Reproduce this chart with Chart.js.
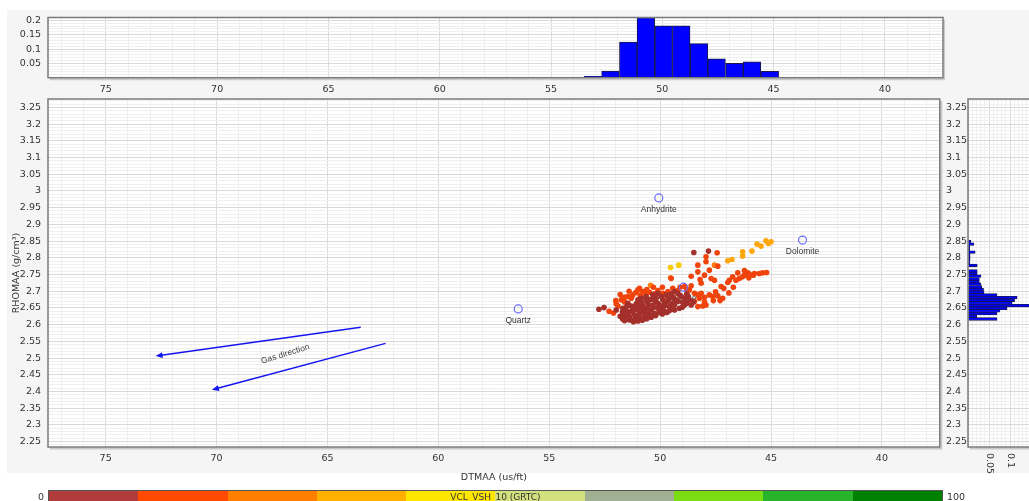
<!DOCTYPE html>
<html><head><meta charset="utf-8">
<script src="https://cdn.jsdelivr.net/npm/chart.js@4.4.1/dist/chart.umd.min.js"></script>
<style>
html,body{margin:0;padding:0;width:1029px;height:501px;overflow:hidden;background:#fff;font-family:"DejaVu Sans",sans-serif;}
#panel{position:absolute;left:7px;top:10px;width:1022px;height:463px;background:#f5f5f5;}
.wrap{position:absolute;}
#cbar{position:absolute;left:48px;top:490px;width:895px;height:14px;border:1px solid #555;display:flex;box-sizing:border-box;}
#cbar div{flex:1;}
#cbarTitle{position:absolute;left:48px;top:491px;width:895px;text-align:center;font-size:9px;color:#333;line-height:12px;}
#cbarMin{position:absolute;left:20px;width:24px;text-align:right;top:491px;font-size:9.5px;color:#333;line-height:12px;}
#cbarMax{position:absolute;left:947px;top:491px;font-size:9.5px;color:#333;line-height:12px;}
</style></head><body>
<div id="panel"></div>
<div class="wrap" style="left:0;top:0;width:945px;height:100px"><canvas id="cTop"></canvas></div>
<div class="wrap" style="left:0;top:0;width:945px;height:492px"><canvas id="cMain"></canvas></div>
<div class="wrap" style="left:940px;top:0;width:160px;height:492px"><canvas id="cRight"></canvas></div>
<div id="cbar"></div>
<div id="cbarMin"></div><div id="cbarMax"></div><div id="cbarTitle"></div>
<script>
// ---------- tick labels ----------
const xTickLabels = [75, 70, 65, 60, 55, 50, 45, 40];
const yTickLabels = [3.25, 3.2, 3.15, 3.1, 3.05, 3, 2.95, 2.9, 2.85, 2.8, 2.75, 2.7, 2.65, 2.6, 2.55, 2.5, 2.45, 2.4, 2.35, 2.3, 2.25];
const topHistTickLabels = [0.2, 0.15, 0.1, 0.05];
const rightHistTickLabels = [0.05, 0.1, 0.15, 0.2];

// ---------- DTMAA histogram (top) ----------
const dtHistCenters = [53.12, 52.33, 51.53, 50.74, 49.94, 49.15, 48.35, 47.56, 46.76, 45.97, 45.17];
const dtHistFreq    = [0.005, 0.023, 0.124, 0.21, 0.181, 0.181, 0.119, 0.066, 0.05, 0.055, 0.022];

// ---------- RHOMAA histogram (right) ----------
const rhoHistCenters = [2.849, 2.841, 2.833, 2.825, 2.817, 2.809, 2.801, 2.793, 2.785, 2.777,
                        2.769, 2.761, 2.753, 2.745, 2.737, 2.729, 2.721, 2.713, 2.705, 2.697,
                        2.689, 2.681, 2.673, 2.665, 2.657, 2.649, 2.641, 2.633, 2.625, 2.617];
const rhoHistFreq    = [0.007, 0.014, 0.004, 0.004, 0.017, 0.005, 0.005, 0.005, 0.004, 0.022,
                        0, 0.022, 0.022, 0.031, 0.027, 0.027, 0.031, 0.033, 0.037, 0.038,
                        0.069, 0.117, 0.111, 0.105, 0.16, 0.093, 0.076, 0.069, 0.021, 0.069];

// ---------- minerals ----------
const mineralNames = ['Quartz', 'Anhydrite', 'Dolomite', 'Calcite'];
const mineralDT    = [56.40, 50.06, 43.58, 48.95];
const mineralRho   = [2.647, 2.979, 2.853, 2.712];

// ---------- scatter points, grouped by VCL_VSH_10 class ----------
const vcl0_10_dt  = [52.76,52.53,51.98,51.53,51.38,51.15,50.93,50.70,51.45,51.23,51.00,50.78,50.55,50.33,50.10,51.30,51.08,50.85,50.63,50.40,50.18,49.95,49.73,49.50,49.35,49.20,49.05,48.90,48.75,48.68,48.90,49.13,49.35,49.58,49.80,50.03,50.25,50.48,50.70,50.93,51.15,51.38,51.60,51.68,51.45,50.85,50.63,50.33,50.10,49.88,49.65,49.43,49.20,50.10,50.40,50.63,51.00,50.55,49.80,49.58,49.35,48.60,51.00,51.23,51.53,48.48,47.82,49.28,48.98,
                     51.80,51.70,51.60,51.20,51.00,50.80,50.60,50.40,50.20,49.90,49.70,49.50,49.00,48.80,48.50,50.90,50.70,50.50,50.30,50.00,49.80,49.60,49.40,50.20,50.50,50.80,51.10,51.30,51.50,51.70,49.10,48.80,49.90,50.60,51.00];
const vcl0_10_rho = [2.646,2.651,2.644,2.619,2.614,2.616,2.619,2.624,2.634,2.639,2.644,2.649,2.654,2.659,2.664,2.656,2.662,2.666,2.672,2.676,2.679,2.684,2.689,2.692,2.699,2.694,2.684,2.679,2.686,2.674,2.659,2.649,2.644,2.642,2.639,2.636,2.634,2.629,2.636,2.632,2.629,2.624,2.629,2.649,2.664,2.679,2.684,2.689,2.694,2.674,2.669,2.664,2.669,2.649,2.644,2.649,2.654,2.664,2.656,2.654,2.659,2.659,2.674,2.649,2.642,2.816,2.820,2.674,2.666,
                     2.625,2.618,2.612,2.609,2.611,2.613,2.618,2.622,2.627,2.632,2.636,2.646,2.652,2.664,2.668,2.642,2.646,2.641,2.652,2.657,2.662,2.677,2.682,2.669,2.675,2.659,2.647,2.640,2.655,2.638,2.688,2.692,2.648,2.637,2.620];
const vcl10_20_dt  = [51.98,51.90,51.60,51.45,51.23,51.00,50.93,50.78,50.67,50.48,50.25,50.10,49.88,49.65,49.43,49.20,48.90,48.60,48.68,48.45,48.30,48.23,48.15,48.00,47.78,47.63,47.40,47.18,47.93,48.08,48.30,48.45,49.65,51.75,51.30,47.93,47.93,48.30,48.30,47.78,47.70,47.55,47.43,47.25,47.13,46.95,46.88,46.73,46.50,46.43,46.28,46.20,46.05,45.98,45.75,45.53,45.38,46.58,48.15,49.50,
                      52.00,51.60,51.80,51.10,50.90,50.60,50.30,49.90,49.10,48.80,48.00,47.60,47.30,46.90,46.70,47.50,48.20,48.60,48.00,47.40,46.20,45.80,45.20,46.00,51.40,52.30,52.10];
const vcl10_20_rho = [2.662,2.656,2.682,2.684,2.689,2.704,2.709,2.699,2.694,2.697,2.692,2.702,2.694,2.699,2.709,2.702,2.714,2.716,2.704,2.694,2.689,2.679,2.694,2.682,2.689,2.684,2.686,2.679,2.659,2.656,2.654,2.669,2.679,2.674,2.679,2.803,2.788,2.778,2.758,2.763,2.738,2.733,2.815,2.714,2.709,2.726,2.733,2.743,2.755,2.738,2.743,2.748,2.755,2.751,2.753,2.753,2.755,2.733,2.724,2.738,
                      2.672,2.668,2.690,2.696,2.688,2.705,2.712,2.712,2.712,2.705,2.668,2.672,2.672,2.695,2.712,2.698,2.735,2.745,2.748,2.775,2.762,2.748,2.756,2.740,2.700,2.640,2.635];
const vcl20_30_dt  = [50.43, 49.53, 47.55];
const vcl20_30_rho = [2.718, 2.740, 2.778];
const vcl30_40_dt  = [46.95, 46.76, 46.28, 46.28, 45.86, 45.63, 45.45, 45.23, 45.00, 45.12];
const vcl30_40_rho = [2.791, 2.795, 2.818, 2.805, 2.820, 2.841, 2.835, 2.851, 2.848, 2.843];
const vcl40_50_dt  = [49.16, 49.53];
const vcl40_50_rho = [2.778, 2.771];

// ---------- colour scale ----------
const vclClassColors = ['#a4302c', '#f0440c', '#ff7c10', '#ffa60a', '#f8cc00'];
const colorbarColors = ['#b03c3c', '#ff4a00', '#ff7f00', '#ffb000', '#ffe600', '#d2e07e', '#a0b092', '#7cdc12', '#28b42a', '#008000'];
const colorbarMin = '0', colorbarMax = '100', colorbarTitle = 'VCL_VSH_10 (GRTC)';

// ---------- gas direction annotation (data units) ----------
const gasStartDT  = [63.50, 62.38];
const gasStartRho = [2.592, 2.544];
const gasEndDT    = [72.75, 70.21];
const gasEndRho   = [2.506, 2.405];
const gasLabelDT = 66.9, gasLabelRho = 2.512, gasLabelText = 'Gas direction';

// ---------- helpers ----------
const X_MIN = 37.39, X_MAX = 77.6, Y_MIN = 2.234, Y_MAX = 3.275;
function stepTicks(lo, hi, step) { const out = []; const n = Math.round((hi - lo) / step); for (let i = 0; i <= n; i++) out.push(+(lo + i * step).toFixed(4)); return out; }
function hasLabel(list, v) { return list.some(t => Math.abs(t - v) < 1e-6); }
function fmt(v) { return String(+(+v).toFixed(4)); }
const tickFont = { family: '"DejaVu Sans", sans-serif', size: 9.5 };
const MAJOR = '#d9d9d9', MINOR = '#efefef';
Chart.defaults.color = '#333';
Chart.defaults.font.family = '"DejaVu Sans", sans-serif';

const xMinor = stepTicks(38, 77, 1);
const yMinor = stepTicks(2.24, 3.27, 0.01);
const topYMinor = stepTicks(0, 0.21, 0.01);
const rightXMinor = stepTicks(0, 0.3, 0.01);

const framePlugin = {
  id: 'frame',
  beforeDraw(chart) {
    const { ctx, chartArea: a } = chart;
    ctx.save(); ctx.fillStyle = '#ffffff';
    ctx.fillRect(a.left, a.top, a.right - a.left, a.bottom - a.top); ctx.restore();
  },
  afterDraw(chart) {
    const { ctx, chartArea: a } = chart;
    ctx.save();
    ctx.strokeStyle = 'rgba(0,0,0,0.18)'; ctx.lineWidth = 2;
    ctx.beginPath(); ctx.moveTo(a.left + 2, a.bottom + 1.5); ctx.lineTo(a.right + 1.5, a.bottom + 1.5); ctx.lineTo(a.right + 1.5, a.top + 2); ctx.stroke();
    ctx.strokeStyle = '#7a7a7a'; ctx.lineWidth = 1.5;
    ctx.strokeRect(a.left, a.top, a.right - a.left, a.bottom - a.top);
    ctx.restore();
  }
};

function xScaleOpts(showTitle) {
  return {
    type: 'linear', reverse: true, min: X_MIN, max: X_MAX, offset: false,
    afterBuildTicks: s => { s.ticks = xMinor.map(v => ({ value: v })); },
    ticks: { autoSkip: false, maxRotation: 0, minRotation: 0, padding: 6, font: tickFont, color: '#333',
             callback: v => hasLabel(xTickLabels, v) ? fmt(v) : '' },
    grid: { offset: false, drawTicks: false, color: c => (c.tick && hasLabel(xTickLabels, c.tick.value)) ? MAJOR : MINOR },
    border: { display: false },
    title: showTitle ? { display: true, text: 'DTMAA (us/ft)', font: tickFont, color: '#333', padding: { top: 0, bottom: 6.4 } } : { display: false }
  };
}
function rhoScaleOpts(far) {
  return {
    type: 'linear', min: Y_MIN, max: Y_MAX, offset: false,
    afterBuildTicks: s => { s.ticks = yMinor.map(v => ({ value: v })); },
    ticks: { autoSkip: false, padding: 7, font: tickFont, color: '#333', crossAlign: far ? 'far' : 'near',
             callback: v => hasLabel(yTickLabels, v) ? fmt(v) : '' },
    grid: { offset: false, drawTicks: false, color: c => (c.tick && hasLabel(yTickLabels, c.tick.value)) ? MAJOR : MINOR },
    border: { display: false }
  };
}

// ---------- top histogram ----------
new Chart(document.getElementById('cTop'), {
  type: 'bar',
  data: { datasets: [{ data: dtHistCenters.map((c, i) => ({ x: c, y: dtHistFreq[i] })),
    backgroundColor: '#0000ff', borderColor: '#1a1a4a', borderWidth: 1, barPercentage: 1, categoryPercentage: 1 }] },
  options: {
    responsive: true, maintainAspectRatio: false, animation: false, events: [],
    layout: { padding: { left: 0, right: 2, top: 17.5, bottom: 0 } },
    plugins: { legend: { display: false }, tooltip: { enabled: false } },
    scales: {
      x: Object.assign(xScaleOpts(false), { afterFit: s => { s.height = 22.3; } }),
      y: { type: 'linear', min: 0, max: 0.21,
           afterBuildTicks: s => { s.ticks = topYMinor.map(v => ({ value: v })); },
           afterFit: s => { s.width = 48; },
           ticks: { autoSkip: false, padding: 7, font: tickFont, color: '#333', callback: v => hasLabel(topHistTickLabels, v) ? fmt(v) : '' },
           grid: { drawTicks: false, color: c => (c.tick && hasLabel(topHistTickLabels, c.tick.value)) ? MAJOR : MINOR },
           border: { display: false } }
    }
  },
  plugins: [framePlugin]
});

// ---------- main crossplot ----------
const annotPlugin = {
  id: 'annot',
  beforeDatasetsDraw(chart) {
    const { ctx, scales: { x, y } } = chart;
    ctx.save();
    ctx.font = '8.5px "Liberation Sans", Arial, sans-serif'; ctx.fillStyle = '#333';
    ctx.textAlign = 'center'; ctx.textBaseline = 'middle';
    mineralNames.forEach((n, i) => ctx.fillText(n, x.getPixelForValue(mineralDT[i]), y.getPixelForValue(mineralRho[i]) + 11.5));
    ctx.restore();
  },
  afterDatasetsDraw(chart) {
    const { ctx, scales: { x, y } } = chart;
    ctx.save();
    ctx.strokeStyle = '#1414f0'; ctx.fillStyle = '#1414f0'; ctx.lineWidth = 1.5;
    for (let i = 0; i < gasStartDT.length; i++) {
      const x0 = x.getPixelForValue(gasStartDT[i]), y0 = y.getPixelForValue(gasStartRho[i]);
      const x1 = x.getPixelForValue(gasEndDT[i]), y1 = y.getPixelForValue(gasEndRho[i]);
      const ang = Math.atan2(y1 - y0, x1 - x0);
      ctx.beginPath(); ctx.moveTo(x0, y0); ctx.lineTo(x1 - 4 * Math.cos(ang), y1 - 4 * Math.sin(ang)); ctx.stroke();
      ctx.beginPath();
      ctx.moveTo(x1, y1);
      ctx.lineTo(x1 - 7 * Math.cos(ang) + 3 * Math.sin(ang), y1 - 7 * Math.sin(ang) - 3 * Math.cos(ang));
      ctx.lineTo(x1 - 7 * Math.cos(ang) - 3 * Math.sin(ang), y1 - 7 * Math.sin(ang) + 3 * Math.cos(ang));
      ctx.closePath(); ctx.fill();
    }
    ctx.translate(x.getPixelForValue(gasLabelDT), y.getPixelForValue(gasLabelRho));
    ctx.rotate(-17 * Math.PI / 180);
    ctx.font = '8.5px "Liberation Sans", Arial, sans-serif'; ctx.fillStyle = '#444';
    ctx.textAlign = 'center'; ctx.textBaseline = 'middle';
    ctx.fillText(gasLabelText, 0, 0);
    ctx.restore();
  }
};

const groups = [
  { name: 'VCL 0-10', dt: vcl0_10_dt, rho: vcl0_10_rho },
  { name: 'VCL 10-20', dt: vcl10_20_dt, rho: vcl10_20_rho },
  { name: 'VCL 20-30', dt: vcl20_30_dt, rho: vcl20_30_rho },
  { name: 'VCL 30-40', dt: vcl30_40_dt, rho: vcl30_40_rho },
  { name: 'VCL 40-50', dt: vcl40_50_dt, rho: vcl40_50_rho }
];
const scatterSets = groups.map((g, k) => ({
  label: g.name, data: g.dt.map((v, i) => ({ x: v, y: g.rho[i] })),
  pointRadius: 2.8, pointBorderWidth: 0, backgroundColor: vclClassColors[k], borderColor: vclClassColors[k], order: k + 1
}));
const mainY = rhoScaleOpts(false);
mainY.afterFit = s => { s.width = 48; };
mainY.title = { display: true, text: 'RHOMAA (g/cm³)', font: tickFont, color: '#333', padding: { top: 10.4, bottom: 0 } };
const mainX = xScaleOpts(true);
mainX.afterFit = s => { s.height = 43; };
new Chart(document.getElementById('cMain'), {
  type: 'scatter',
  data: { datasets: [
    { label: 'Minerals', data: mineralDT.map((v, i) => ({ x: v, y: mineralRho[i] })), pointRadius: 4, pointBorderWidth: 1.2,
      borderColor: '#6a6aff', backgroundColor: 'rgba(0,0,0,0)', order: 0 },
    ...scatterSets
  ] },
  options: {
    responsive: true, maintainAspectRatio: false, animation: false, events: [],
    layout: { padding: { left: 0, right: 2, top: 99, bottom: 2 } },
    plugins: { legend: { display: false }, tooltip: { enabled: false } },
    scales: { x: mainX, y: mainY }
  },
  plugins: [framePlugin, annotPlugin]
});

// ---------- right histogram ----------
const rightLabels = {
  id: 'rightLabels',
  afterDraw(chart) {
    const { ctx, scales: { x }, chartArea: a } = chart;
    ctx.save();
    ctx.font = '9.5px "DejaVu Sans", sans-serif'; ctx.fillStyle = '#333';
    ctx.textAlign = 'left'; ctx.textBaseline = 'middle';
    rightHistTickLabels.forEach(v => {
      ctx.save(); ctx.translate(x.getPixelForValue(v), a.bottom + 6); ctx.rotate(Math.PI / 2);
      ctx.fillText(fmt(v), 0, 0); ctx.restore();
    });
    ctx.restore();
  }
};
const rightY = rhoScaleOpts(true);
rightY.afterFit = s => { s.width = 22; };
new Chart(document.getElementById('cRight'), {
  type: 'bar',
  data: { datasets: [{ data: rhoHistCenters.map((c, i) => ({ x: rhoHistFreq[i], y: c })),
    backgroundColor: '#0000ff', borderColor: '#1a1a4a', borderWidth: 0.8, barPercentage: 1, categoryPercentage: 1 }] },
  options: {
    indexAxis: 'y',
    responsive: true, maintainAspectRatio: false, animation: false, events: [],
    layout: { padding: { left: 6, right: 6, top: 99, bottom: 2 } },
    plugins: { legend: { display: false }, tooltip: { enabled: false } },
    scales: {
      x: { type: 'linear', min: 0, max: 0.3,
           afterBuildTicks: s => { s.ticks = rightXMinor.map(v => ({ value: v })); },
           afterFit: s => { s.height = 43; },
           ticks: { display: false },
           grid: { drawTicks: false, color: c => (c.tick && Math.abs(c.tick.value / 0.05 - Math.round(c.tick.value / 0.05)) < 1e-6) ? MAJOR : MINOR },
           border: { display: false } },
      y: rightY
    }
  },
  plugins: [framePlugin, rightLabels]
});

// ---------- colour bar legend ----------
const cbar = document.getElementById('cbar');
colorbarColors.forEach(c => { const d = document.createElement('div'); d.style.background = c; cbar.appendChild(d); });
document.getElementById('cbarMin').textContent = colorbarMin;
document.getElementById('cbarMax').textContent = colorbarMax;
document.getElementById('cbarTitle').textContent = colorbarTitle;
</script>
</body></html>
